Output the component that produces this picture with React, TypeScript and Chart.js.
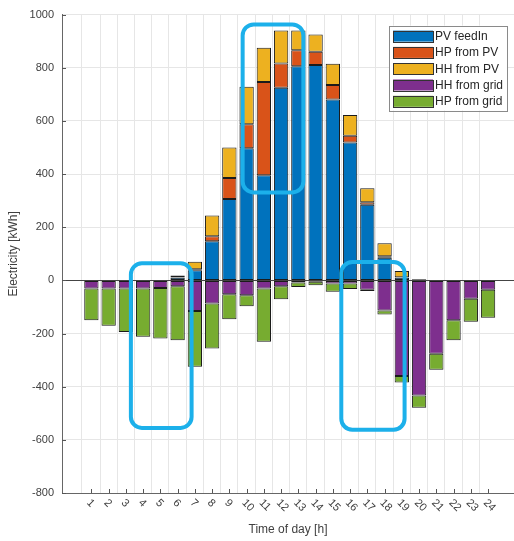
import React, { useEffect, useRef } from 'react';
import { Chart, registerables } from 'chart.js';

Chart.register(...registerables);

const hours = ['1','2','3','4','5','6','7','8','9','10','11','12','13','14','15','16','17','18','19','20','21','22','23','24'];

const pvFeedIn   = [0,0,0,0,0,10,38,147,306,497,396,725,806,810,681,519,285,85,10,0,0,0,0,0];
const hpFromPv   = [0,0,0,0,0,2,4,19,79,90,350,91,60,50,54,25,9,6,2,0,0,0,0,0];
const hhFromPv   = [0,0,0,0,0,6,28,78,115,142,129,124,74,65,80,78,53,49,23,4,0,0,0,0];
const hhFromGrid = [-31,-31,-31,-31,-29,-22,-115,-87,-52,-56,-31,-22,-8,-5,-12,-12,-35,-113,-360,-433,-276,-150,-69,-35];
const hpFromGrid = [-119,-140,-163,-181,-190,-203,-210,-169,-94,-41,-200,-49,-17,-13,-31,-20,-5,-15,-24,-46,-60,-75,-87,-106];

const seriesLabels = ['PV feedIn', 'HP from PV', 'HH from PV', 'HH from grid', 'HP from grid'];
const seriesValues = [pvFeedIn, hpFromPv, hhFromPv, hhFromGrid, hpFromGrid];
const seriesColors = ['#0072BD', '#D95319', '#EDB120', '#7E2F8E', '#77AC30'];

const yMin = -800;
const yMax = 1000;
const yStep = 200;

// highlight boxes in data units (hour, kWh)
const boxX1 = [3.29, 9.77, 15.49];
const boxX2 = [6.81, 13.29, 19.16];
const boxYLow = [-555, 331, -562];
const boxYHigh = [64, 963, 69];

const FONT = '"Liberation Sans", Arial, sans-serif';

const overlayPlugin = {
  id: 'overlay',
  afterDatasetsDraw(chart: any) {
    const { ctx, scales } = chart;
    const x = scales.x, y = scales.y;
    ctx.save();
    ctx.strokeStyle = '#1cb0ea';
    ctx.lineWidth = 4;
    for (let i = 0; i < boxX1.length; i++) {
      const l = x.getPixelForValue(boxX1[i]);
      const r = x.getPixelForValue(boxX2[i]);
      const t = y.getPixelForValue(boxYHigh[i]);
      const b = y.getPixelForValue(boxYLow[i]);
      ctx.beginPath();
      (ctx as any).roundRect(l, t, r - l, b - t, 11);
      ctx.stroke();
    }
    ctx.restore();
  },
  afterDraw(chart: any) {
    const { ctx, scales, chartArea } = chart;
    const x = scales.x, y = scales.y;
    ctx.save();
    // tick marks (inside)
    ctx.strokeStyle = '#555';
    ctx.lineWidth = 1;
    ctx.beginPath();
    for (let v = yMin; v <= yMax; v += yStep) {
      const py = Math.round(y.getPixelForValue(v)) + 0.5;
      ctx.moveTo(chartArea.left, py);
      ctx.lineTo(chartArea.left + 4, py);
    }
    hours.forEach((h, i) => {
      const px = Math.round(x.getPixelForValue(i + 1)) + 0.5;
      ctx.moveTo(px, chartArea.bottom);
      ctx.lineTo(px, chartArea.bottom - 4);
    });
    ctx.stroke();

    // rotated x tick labels
    ctx.fillStyle = '#404040';
    ctx.font = '11px ' + FONT;
    ctx.textAlign = 'left';
    ctx.textBaseline = 'middle';
    hours.forEach((h, i) => {
      const px = x.getPixelForValue(i + 1);
      ctx.save();
      ctx.translate(px - 3, chartArea.bottom + 8);
      ctx.rotate(Math.PI / 4);
      ctx.fillText(h, 0, 0);
      ctx.restore();
    });

    // legend
    const lw = 118, lh = 85;
    const lx = chartArea.right - 125;
    const ly = chartArea.top + 11;
    ctx.fillStyle = '#ffffff';
    ctx.fillRect(lx, ly, lw, lh);
    ctx.strokeStyle = '#8a8a8a';
    ctx.lineWidth = 1;
    ctx.strokeRect(Math.round(lx) + 0.5, Math.round(ly) + 0.5, lw, lh);
    ctx.font = '12px ' + FONT;
    ctx.textAlign = 'left';
    ctx.textBaseline = 'middle';
    chart.data.datasets.forEach((ds: any, i: number) => {
      const cy = ly + 10.5 + i * 16.3;
      ctx.fillStyle = ds.backgroundColor;
      ctx.fillRect(lx + 4, cy - 5.5, 40, 11);
      ctx.strokeStyle = '#333';
      ctx.strokeRect(Math.round(lx + 4) + 0.5, Math.round(cy - 5.5) + 0.5, 40, 11);
      ctx.fillStyle = '#262626';
      ctx.fillText(ds.label, lx + 46, cy + 0.5);
    });
    ctx.restore();
  },
};

export default function App() {
  const ref = useRef<HTMLCanvasElement | null>(null);
  useEffect(() => {
    if (!ref.current) return;
    Chart.defaults.font.family = FONT;
    const chart = new Chart(ref.current, {
      type: 'bar',
      data: {
        datasets: seriesLabels.map((label, s) => ({
          label,
          data: hours.map((h, i) => ({ x: i + 1, y: seriesValues[s][i] })),
          backgroundColor: seriesColors[s],
          borderColor: 'rgba(15,15,15,0.95)',
          borderWidth: 1,
          borderSkipped: false,
          barPercentage: 0.83,
          categoryPercentage: 1,
        })),
      },
      options: {
        responsive: false,
        animation: false,
        events: [],
        layout: { padding: { top: 13, left: 0, right: 0, bottom: 0 } },
        plugins: { legend: { display: false }, tooltip: { enabled: false } },
        scales: {
          x: {
            type: 'linear',
            stacked: true,
            min: -0.2,
            max: 25,
            ticks: { display: false, stepSize: 1 },
            grid: {
              drawTicks: false,
              color: (c: any) => {
                const v = c.tick ? c.tick.value : 0;
                return v >= 1 && v <= 24 && Number.isInteger(v) ? '#e6e6e6' : 'rgba(0,0,0,0)';
              },
            },
            border: { display: true, color: '#666', width: 1 },
            title: {
              display: true,
              text: 'Time of day [h]',
              color: '#404040',
              font: { size: 12, family: FONT },
              padding: { top: 0, bottom: 4 },
            },
            afterFit: (scale: any) => { scale.height = 48; },
          } as any,
          y: {
            stacked: true,
            min: yMin,
            max: yMax,
            ticks: {
              stepSize: yStep,
              padding: 8,
              color: '#404040',
              font: { size: 11, family: FONT },
              callback: (v: any) => String(v),
            },
            grid: {
              drawTicks: false,
              color: (c: any) => {
                const v = c.tick ? c.tick.value : 1;
                if (v === 0) return '#444';
                if (v === yMin) return 'rgba(0,0,0,0)';
                return '#e6e6e6';
              },
            },
            border: { display: true, color: '#666', width: 1 },
            title: {
              display: true,
              text: 'Electricity [kWh]',
              color: '#404040',
              font: { size: 12, family: FONT },
              padding: { top: 6, bottom: 0 },
            },
            afterFit: (scale: any) => { scale.width = 62; },
          } as any,
        },
      },
      plugins: [overlayPlugin],
    });
    return () => chart.destroy();
  }, []);
  return (
    <div style={{ position: 'fixed', left: 0, top: 0, width: 514, height: 541, background: '#fff' }}>
      <canvas ref={ref} width={514} height={541} style={{ width: 514, height: 541, display: 'block' }} />
    </div>
  );
}
